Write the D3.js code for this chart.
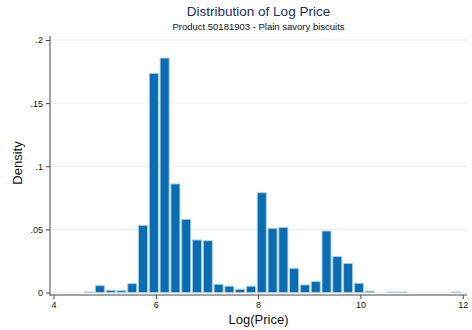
<!DOCTYPE html>
<html lang="en">
<head>
<meta charset="UTF-8">
<title>Distribution of Log Price</title>
<script src="https://cdn.jsdelivr.net/npm/d3@7"></script>
<style>
    body { margin: 0; background: #fff; }
    svg { display: block; font-family: "Liberation Sans", Arial, Helvetica, sans-serif; }
</style>
</head>
<body>
<svg id="chart" width="472" height="330"></svg>

<script>
    /* global d3 */

    // histogram bins: start of first bin and bin width (log price units)
    var binMin = 4.59,
        binWidth = 0.211;

    // density of each bin
    var densities = [
        0.0004, 0.0054, 0.0016, 0.0014, 0.0070, 0.0530, 0.1736, 0.1857, 0.0860, 0.0580,
        0.0416, 0.0410, 0.0065, 0.0050, 0.0025, 0.0050, 0.0790, 0.0508, 0.0516, 0.0190,
        0.0060, 0.0086, 0.0487, 0.0284, 0.0230, 0.0073, 0.0010, 0.0000, 0.0004, 0.0004,
        0.0000, 0.0000, 0.0000, 0.0000, 0.0004
    ];

    var xTicks = [4, 6, 8, 10, 12],
        yTicks = [0, 0.05, 0.1, 0.15, 0.2],
        yTickLabels = ["0", ".05", ".1", ".15", ".2"];

    var titleText = "Distribution of Log Price",
        subtitleText = "Product 50181903 - Plain savory biscuits",
        xTitle = "Log(Price)",
        yTitle = "Density";

    var bins = densities.map(function (d, i) {
        return {x0: binMin + i * binWidth, x1: binMin + (i + 1) * binWidth, density: d};
    });

    var svg = d3.select("#chart"),
        plotLeft = 50,
        plotRight = 467,
        axisY = 295,
        x = d3.scaleLinear().domain([4, 12]).range([53.5, 462.7]),
        y = d3.scaleLinear().domain([0, 0.2]).range([292.5, 40]);

    // grid lines
    svg.append("g")
        .selectAll("line")
        .data(yTicks)
        .enter().append("line")
        .attr("x1", plotLeft + 1)
        .attr("x2", plotRight)
        .attr("y1", function (d) { return y(d); })
        .attr("y2", function (d) { return y(d); })
        .attr("stroke", "#e9f1f1")
        .attr("stroke-width", 1);

    // bars
    svg.append("g")
        .selectAll("rect")
        .data(bins.filter(function (b) { return b.density > 0; }))
        .enter().append("rect")
        .attr("x", function (b) { return x(b.x0) + 0.9; })
        .attr("width", function (b) { return x(b.x1) - x(b.x0) - 1.8; })
        .attr("y", function (b) { return y(b.density); })
        .attr("height", function (b) { return y(0) - y(b.density); })
        .attr("fill", "#0a6db1")
        .attr("stroke", "#a5cbe8")
        .attr("stroke-width", 0.9);

    // y axis
    var yAxis = d3.axisLeft(y)
        .tickValues(yTicks)
        .tickFormat(function (d, i) { return yTickLabels[i]; })
        .tickSize(4)
        .tickPadding(3);

    var gy = svg.append("g")
        .attr("transform", "translate(" + plotLeft + ",0)")
        .call(yAxis);
    gy.select(".domain").remove();
    gy.append("line")
        .attr("x1", 0).attr("x2", 0)
        .attr("y1", 36).attr("y2", axisY + 1)
        .attr("stroke", "#444");

    // x axis
    var xAxis = d3.axisBottom(x)
        .tickValues(xTicks)
        .tickFormat(d3.format("d"))
        .tickSize(4)
        .tickPadding(3);

    var gx = svg.append("g")
        .attr("transform", "translate(0," + axisY + ")")
        .call(xAxis);
    gx.select(".domain").remove();
    gx.append("line")
        .attr("x1", plotLeft).attr("x2", plotRight)
        .attr("y1", 0).attr("y2", 0)
        .attr("stroke", "#444");

    svg.selectAll(".tick line").attr("stroke", "#444");
    svg.selectAll(".tick text")
        .attr("fill", "#111")
        .style("font-size", "9px")
        .style("font-family", "'Liberation Sans', Arial, sans-serif");

    // titles
    svg.append("text")
        .attr("x", 258.5)
        .attr("y", 15.5)
        .attr("text-anchor", "middle")
        .attr("fill", "#1c2d5e")
        .style("font-size", "13.5px")
        .text(titleText);

    svg.append("text")
        .attr("x", 258.5)
        .attr("y", 29.5)
        .attr("text-anchor", "middle")
        .attr("fill", "#111")
        .style("font-size", "9.5px")
        .text(subtitleText);

    svg.append("text")
        .attr("x", 258.5)
        .attr("y", 323.5)
        .attr("text-anchor", "middle")
        .attr("fill", "#111")
        .style("font-size", "13px")
        .text(xTitle);

    svg.append("text")
        .attr("transform", "translate(21.5,163) rotate(-90)")
        .attr("text-anchor", "middle")
        .attr("fill", "#111")
        .style("font-size", "13px")
        .text(yTitle);
</script>
</body>
</html>
